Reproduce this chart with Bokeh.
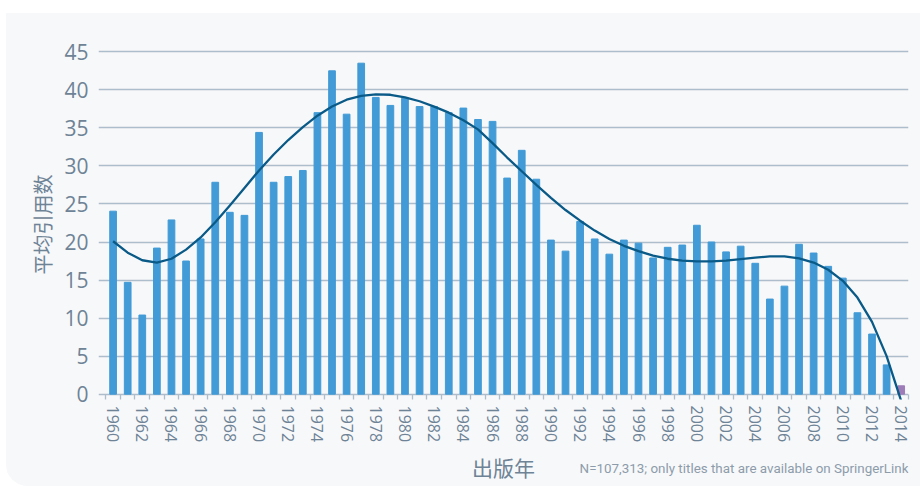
from bokeh.plotting import figure
from bokeh.models import FixedTicker, Spacer, ColumnDataSource
from bokeh.core.properties import value
from bokeh.layouts import column, row
from bokeh.embed import file_html
from bokeh.resources import INLINE

years = list(range(1960, 2015))
avg_citations = [24.05, 14.7, 10.4, 19.2, 22.9, 17.5, 20.4, 27.85, 23.9, 23.5,
                 34.4, 27.85, 28.6, 29.4, 37.0, 42.5, 36.8, 43.5, 39.0, 37.95,
                 38.9, 37.8, 37.8, 37.0, 37.6, 36.1, 35.85, 28.4, 32.05, 28.25,
                 20.25, 18.8, 22.7, 20.4, 18.4, 20.25, 19.85, 17.9, 19.3, 19.6,
                 22.2, 20.0, 18.7, 19.45, 17.2, 12.5, 14.2, 19.7, 18.55, 16.8,
                 15.25, 10.7, 7.9, 3.85, 1.1]
trend_years = list(range(1960, 2015))
trend_values = [20.1, 18.6, 17.6, 17.3, 17.8, 19.0, 20.6, 22.6, 24.8, 27.1,
                29.4, 31.5, 33.4, 35.1, 36.6, 37.8, 38.7, 39.2, 39.4, 39.35,
                39.0, 38.5, 37.8, 37.0, 36.0, 34.8, 33.0, 31.1, 29.3, 27.5,
                25.8, 24.2, 22.8, 21.5, 20.4, 19.5, 18.8, 18.2, 17.8, 17.55,
                17.45, 17.45, 17.55, 17.75, 17.95, 18.1, 18.1, 17.85, 17.3, 16.35,
                14.9, 12.7, 9.5, 5.0, -0.9]
y_ticks = [0, 5, 10, 15, 20, 25, 30, 35, 40, 45]
x_label = "出版年"
y_label = "平均引用数"
note = "N=107,313; only titles that are available on SpringerLink"

BG = "#f7f8fa"
BAR = "#429bd6"
LAST = "#9d7cb8"
LINE = "#0a5a88"
GRID = "#aebdcb"
TXT = "#6e8396"

idx = [y - years[0] for y in years]
colors = [BAR] * (len(years) - 1) + [LAST]
src = ColumnDataSource(dict(x=idx, top=avg_citations, color=colors))
tsrc = ColumnDataSource(dict(x=[y - years[0] for y in trend_years], y=trend_values))

p = figure(width=914, height=437, output_backend="svg", toolbar_location=None,
           x_range=(-1.0, len(years) - 0.5), y_range=(-0.7, 45.3),
           min_border_left=92, min_border_right=12, min_border_top=36, min_border_bottom=51)
p.background_fill_color = BG
p.border_fill_color = BG
p.outline_line_color = None

p.vbar(x="x", top="top", bottom=0, width=0.46, color="color", source=src)
p.line(x="x", y="y", source=tsrc, line_color=LINE, line_width=2.3, line_join="round")

# y axis
p.yaxis.ticker = FixedTicker(ticks=y_ticks)
p.yaxis.axis_line_color = None
p.yaxis.major_tick_line_color = None
p.yaxis.minor_tick_line_color = None
p.yaxis.major_label_text_font = "Open Sans"
p.yaxis.major_label_text_font_size = "21px"
p.yaxis.major_label_text_color = TXT
p.yaxis.major_label_standoff = 4
p.yaxis.axis_label = y_label
p.yaxis.axis_label_text_font = "Noto Sans CJK SC"
p.yaxis.axis_label_text_font_size = "20px"
p.yaxis.axis_label_text_font_style = "normal"
p.yaxis.axis_label_text_color = TXT
p.yaxis.axis_label_standoff = 4

p.ygrid.ticker = FixedTicker(ticks=y_ticks)
p.ygrid.grid_line_color = GRID
p.ygrid.grid_line_width = 1.3
p.xgrid.grid_line_color = None

# x axis
major = [i for i in idx if i % 2 == 0]
minor = [i - 0.5 for i in idx] + [idx[-1] + 0.5]
p.xaxis.ticker = FixedTicker(ticks=major, minor_ticks=minor)
p.xaxis.major_label_overrides = {i: str(years[i]) for i in major}
p.xaxis.major_label_orientation = "vertical"
p.xaxis.axis_line_color = None
p.xaxis.major_tick_line_color = None
p.xaxis.minor_tick_line_color = GRID
p.xaxis.minor_tick_line_width = 1.3
p.xaxis.minor_tick_in = 5
p.xaxis.minor_tick_out = 0
p.xaxis.major_label_standoff = 0
p.xaxis.major_label_text_font = "Open Sans"
p.xaxis.major_label_text_font_size = "16px"
p.xaxis.major_label_text_color = TXT

# strip below the chart holding the x-axis title and the note
# (its frame has the same horizontal extent as the chart frame: page x 98..908)
s = figure(width=914, height=36, output_backend="svg", toolbar_location=None,
           x_range=(98, 908), y_range=(0, 36), x_axis_location=None, y_axis_location=None,
           min_border_left=92, min_border_right=12, min_border_top=0, min_border_bottom=0)
s.background_fill_color = BG
s.border_fill_color = BG
s.outline_line_color = None
s.grid.grid_line_color = None
s.text(x=[503], y=[19.5], text=[x_label], text_align="center", text_baseline="middle",
       text_font=value("Noto Sans CJK SC"), text_font_size="21px", text_color=TXT)
s.text(x=[908], y=[18], text=[note], text_align="right", text_baseline="middle",
       text_font=value("Roboto"), text_font_size="13.4px", text_color="#8d9caa")

inner = column(p, s, spacing=0, styles={"background-color": BG,
                                        "border-bottom-left-radius": "22px",
                                        "overflow": "hidden"})
layout = row(Spacer(width=6, height=486),
             column(Spacer(width=914, height=13), inner, spacing=0), spacing=0)
open("out.html", "w").write(file_html(layout, INLINE))
